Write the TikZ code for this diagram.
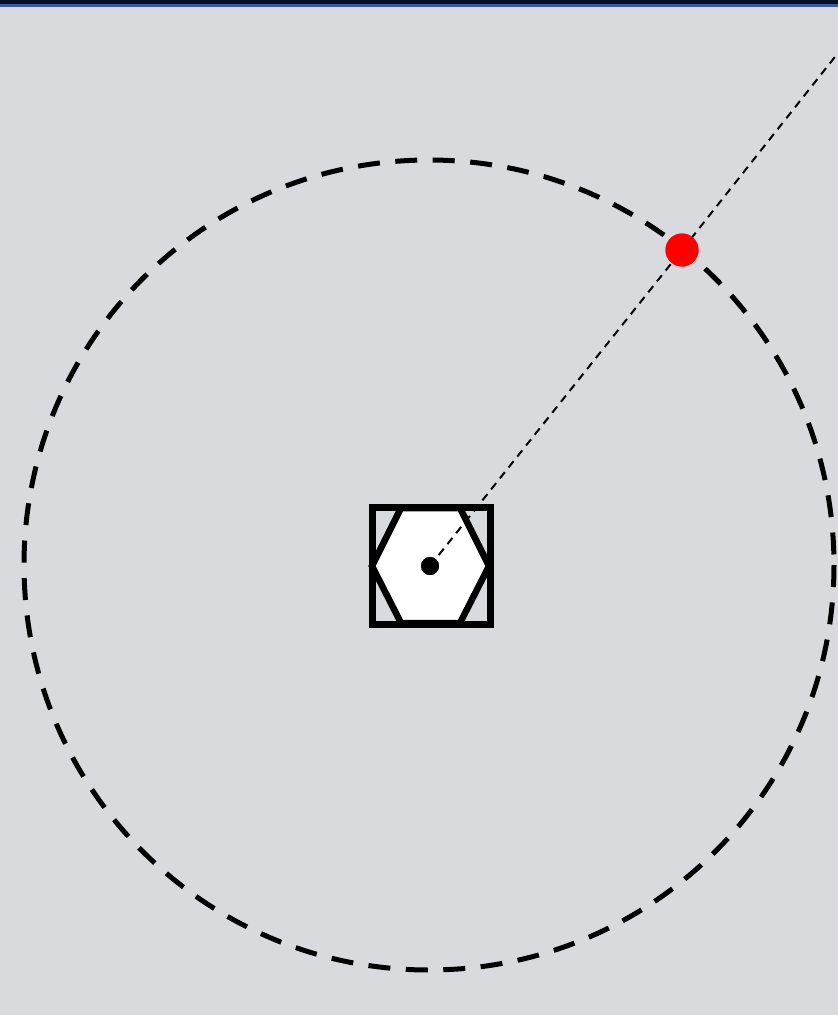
\documentclass[tikz,border=0pt]{standalone}
\usetikzlibrary{calc}
\definecolor{bg}{HTML}{D9DADD}
\definecolor{navy}{HTML}{03102A}
\definecolor{bandblue}{HTML}{3D5C96}
\definecolor{reddot}{HTML}{FF0000}
\tikzset{
  orbit/.style={draw=black, line width=5pt, dash pattern=on 22pt off 15.5pt},
  ray/.style={draw=black, line width=2pt, dash pattern=on 8pt off 6pt},
  frame/.style={draw=black, line width=7pt},
  hexa/.style={draw=black, fill=white, line width=6.5pt, line join=miter},
  dotc/.style={circle, fill=black, inner sep=0pt, minimum size=18pt},
  reddotc/.style={circle, fill=reddot, inner sep=0pt, minimum size=33pt}
}
\begin{document}
\begin{tikzpicture}[x=1pt,y=-1pt]
\useasboundingbox (0,0) rectangle (838,1015);
\fill[bg] (0,0) rectangle (838,1015);
\fill[navy] (0,0) rectangle (838,4);
\fill[bandblue] (0,4) rectangle (838,7);
% orbit circle
\draw[orbit] (429,565) circle[radius=405];
% square frame and hexagon
\draw[frame] (372,507) rectangle (490,624);
\draw[hexa] (372,566) -- (401,508) -- (460,508) -- (489,566) -- (460,623) -- (401,623) -- cycle;
% nodes
\node[dotc] (c) at (430,566) {};
\node[reddotc] (r) at (682,250) {};
\coordinate (e) at (838,53);
\draw[ray] (c.center) -- (r.center);
\draw[ray] (r.center) -- (e);
\node[reddotc] at (r) {};
\node[dotc] at (c) {};
\end{tikzpicture}
\end{document}
